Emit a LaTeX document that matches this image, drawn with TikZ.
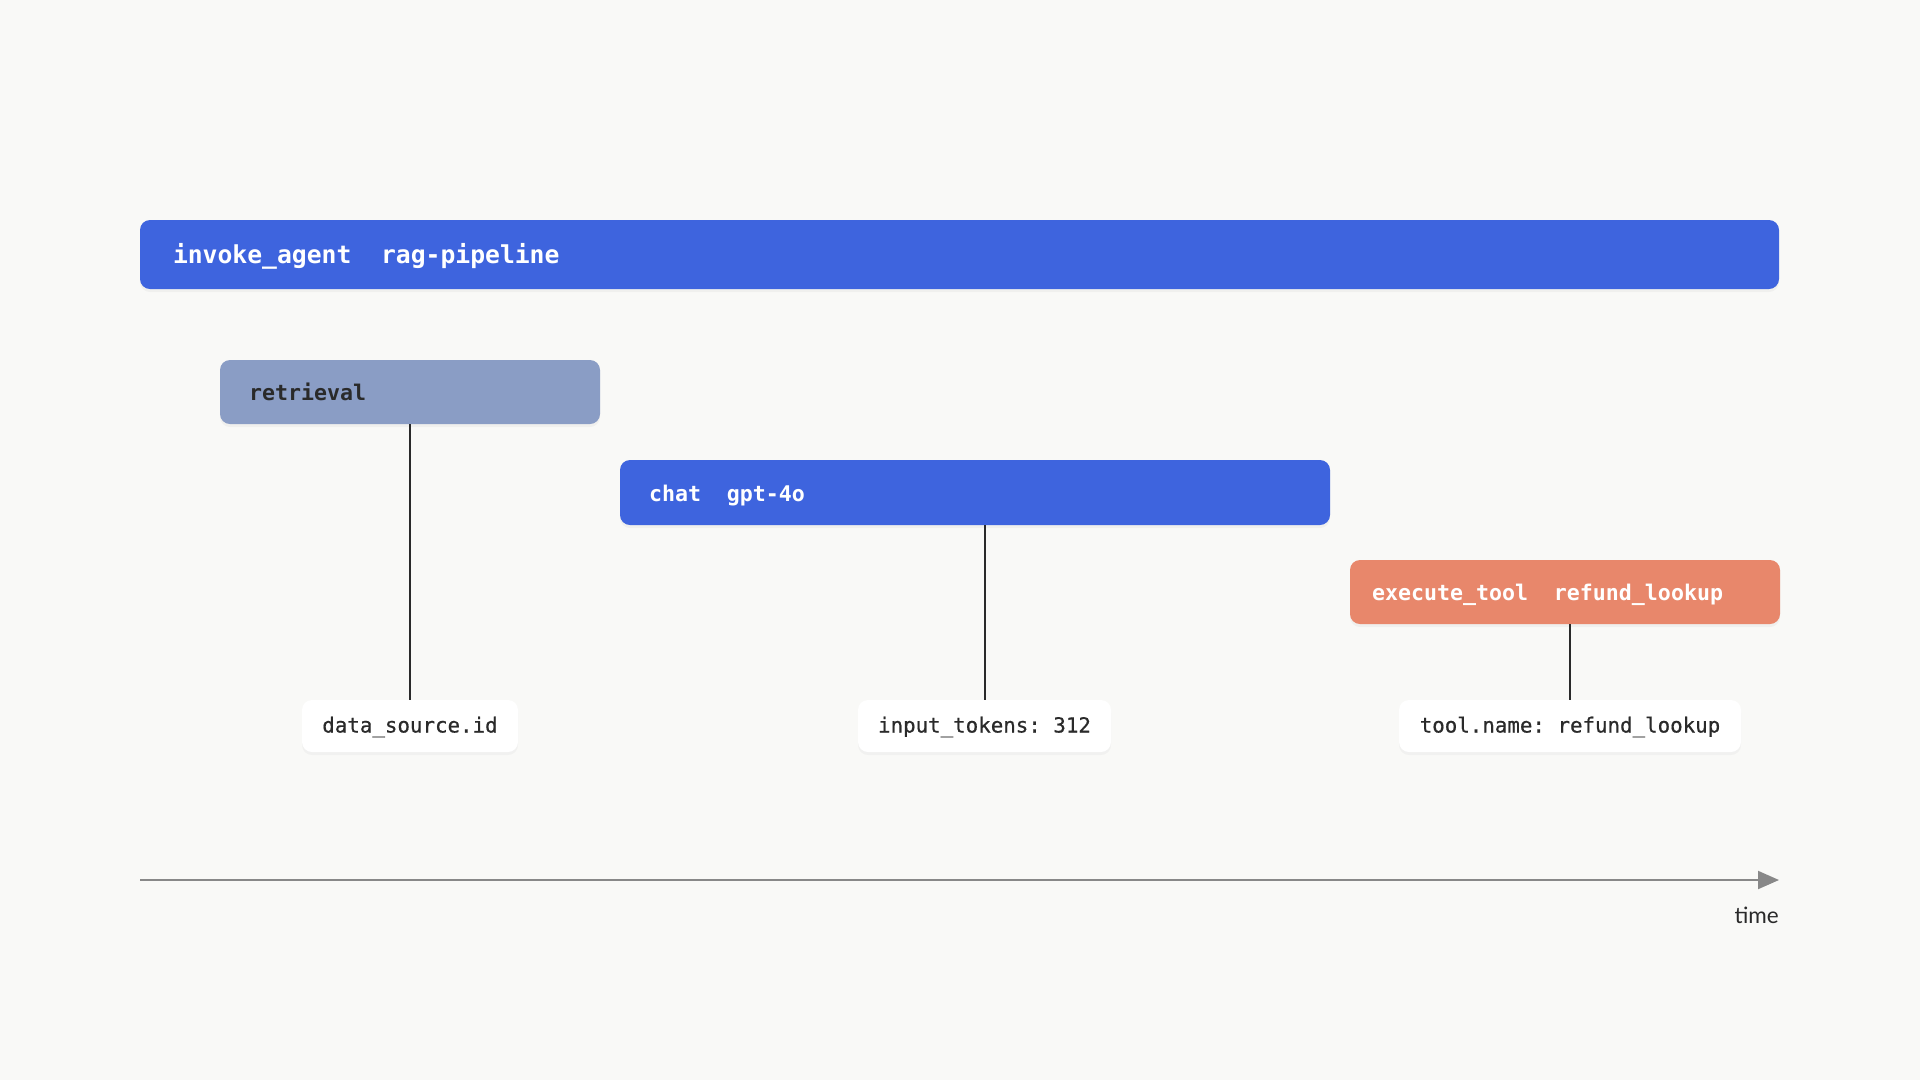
\documentclass[tikz,border=0pt]{standalone}
\usepackage{fontspec}
\setmainfont{Lato}
\newfontfamily\spanfont{DejaVu Sans Mono}
\newfontfamily\attrfont[FakeBold=0.6]{DejaVu Sans Mono}
\usetikzlibrary{shapes}
\usetikzlibrary{arrows.meta}
\usetikzlibrary{shadows}

\definecolor{bgpage}{HTML}{F9F9F7}
\definecolor{spanblue}{HTML}{3E64DE}
\definecolor{spangrey}{HTML}{8A9DC5}
\definecolor{spantool}{HTML}{E8876B}
\definecolor{inkdark}{HTML}{2A2A2A}
\definecolor{axisgrey}{HTML}{888888}

\newcommand{\gap}{\hspace*{1.2em}}

\tikzset{
  span/.style={rounded corners=10pt, align=left, inner ysep=0pt,
    text height=17.5pt, text depth=0pt,
    font=\spanfont\bfseries\frenchspacing\fontsize{21.6}{24}\selectfont, text=white,
    drop shadow={opacity=0.07, shadow xshift=0pt, shadow yshift=-3pt}},
  attr/.style={rounded corners=10pt, fill=white, inner sep=0pt,
    minimum height=52pt, text=inkdark, text height=13pt, text depth=0pt,
    font=\attrfont\frenchspacing\fontsize{20.8}{24}\selectfont,
    drop shadow={opacity=0.06, shadow xshift=0pt, shadow yshift=-3pt}},
  stem/.style={line width=2pt, draw=inkdark}
}

\begin{document}
\begin{tikzpicture}[x=1pt, y=-1pt]

 \fill[bgpage] (0,0) rectangle (1920,1080);
 \useasboundingbox (0,0) rectangle (1920,1080);

 \node[span, fill=spanblue, minimum height=69pt, inner xsep=33pt, text width=1573pt,
   text height=17pt, font=\spanfont\bfseries\fontsize{24.7}{28}\selectfont]
   (agent) at (959.5,254.5) {invoke\_agent\gap rag-pipeline};

 \node[span, fill=spangrey, text=inkdark, minimum height=64pt, inner xsep=29pt, text width=322pt]
   (retrieval) at (410,392) {retrieval};
 \node[span, fill=spanblue, minimum height=65pt, inner xsep=29pt, text width=652pt]
   (chat) at (975,492.5) {chat\gap gpt-4o};
 \node[span, fill=spantool, minimum height=64pt, inner xsep=22pt, text width=386pt]
   (exectool) at (1565,592) {execute\_tool\gap refund\_lookup};

 \node[attr, minimum width=216pt] (datasrc) at (410,726) {data\_source.id};
 \node[attr, minimum width=253pt] (inputtok) at (984.5,726) {input\_tokens: 312};
 \node[attr, minimum width=342pt] (toolname) at (1570,726) {tool.name: refund\_lookup};

 \draw[stem] (retrieval.south) -- (datasrc.north);
 \draw[stem] (inputtok.north |- chat.south) -- (inputtok.north);
 \draw[stem] (toolname.north |- exectool.south) -- (toolname.north);

 % time axis
 \path (140,880) coordinate (T0);
 \path (1779,880) coordinate (T1);
 \draw[line width=2pt, axisgrey, -{Triangle[length=21pt, width=18pt]}] (T0) -- (T1);
 \node[anchor=north east, inner sep=0pt, text=inkdark, font=\fontsize{22.5}{26}\selectfont]
   (timelbl) at (1779,907) {time};

\end{tikzpicture}
\end{document}
